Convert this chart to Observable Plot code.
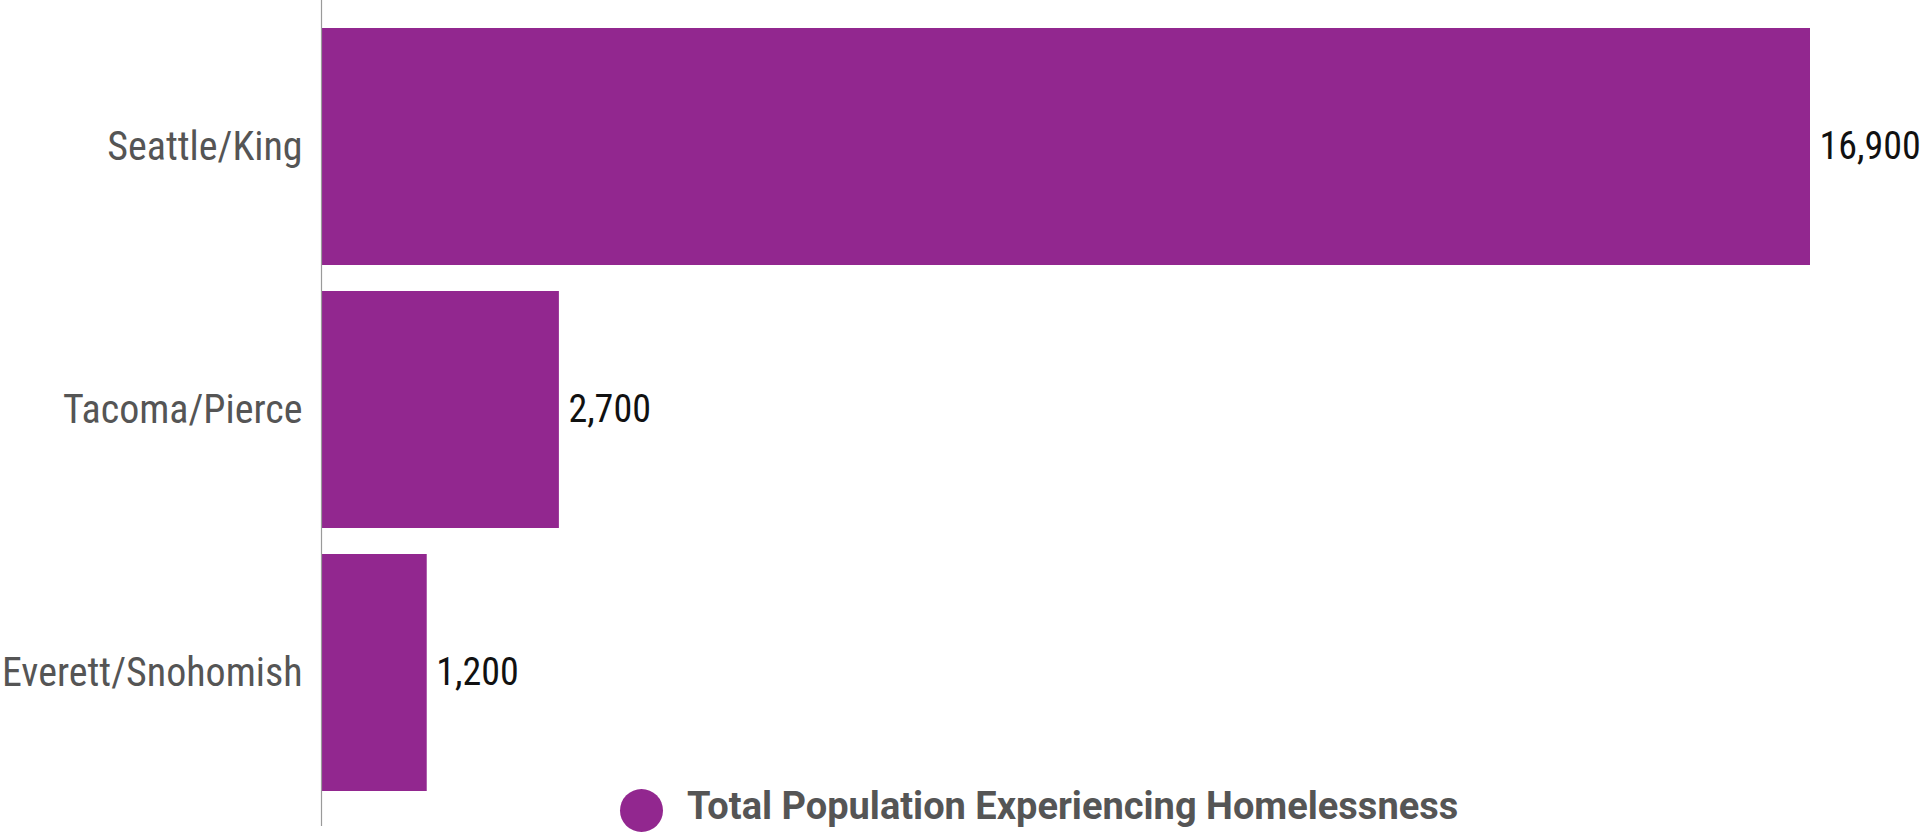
<!DOCTYPE html>
<html>
<head>
<meta charset="utf-8">
<script src="https://cdn.jsdelivr.net/npm/d3@7"></script>
<script src="https://cdn.jsdelivr.net/npm/@observablehq/plot@0.6"></script>
<style>
  html, body { margin: 0; padding: 0; background: #fff; }
  #wrap { position: relative; width: 1928px; height: 832px; overflow: hidden; }
  #wrap svg text { font-stretch: 87.5%; }
  .legend-dot { position: absolute; left: 620px; top: 789px; width: 43px; height: 43px; border-radius: 50%; background: #92278F; }
  .legend-text { position: absolute; left: 687px; top: 787px; font-family: Roboto, sans-serif; font-weight: 700; font-size: 38px; line-height: 38px; color: #555; white-space: nowrap; font-stretch: 100%; }
</style>
</head>
<body>
<div id="wrap"></div>
<script>
const categories = ["Seattle/King", "Tacoma/Pierce", "Everett/Snohomish"];
const values = [16900, 2700, 1200];
const seriesName = "Total Population Experiencing Homelessness";
const barColor = "#92278F";

const data = categories.map((c, i) => ({ region: c, value: values[i] }));
const fmt = d3.format(",");

const chart = Plot.plot({
  width: 1928,
  height: 832,
  marginLeft: 321,
  marginRight: 118,
  marginTop: 0,
  marginBottom: 6,
  style: { fontFamily: "Roboto, sans-serif", background: "#fff", overflow: "visible" },
  x: { domain: [0, 16900], axis: null },
  y: { domain: categories, paddingInner: 0.1, paddingOuter: 0.1144, align: 0.443, label: null, axis: null },
  marks: [
    Plot.barX(data, { x: "value", y: "region", fill: barColor }),
    Plot.ruleX([0], { stroke: "#9a9a9a", strokeWidth: 1.2 }),
    Plot.text(data, { x: "value", y: "region", text: d => fmt(d.value), textAnchor: "start", dx: 9, fontSize: 38, fill: "#111" }),
    Plot.axisY({ tickSize: 0, tickPadding: 19, fontSize: 40, color: "#555", label: null })
  ]
});

const wrap = document.getElementById("wrap");
wrap.appendChild(chart);
const dot = document.createElement("div");
dot.className = "legend-dot";
const txt = document.createElement("div");
txt.className = "legend-text";
txt.textContent = seriesName;
wrap.appendChild(dot);
wrap.appendChild(txt);
</script>
</body>
</html>
